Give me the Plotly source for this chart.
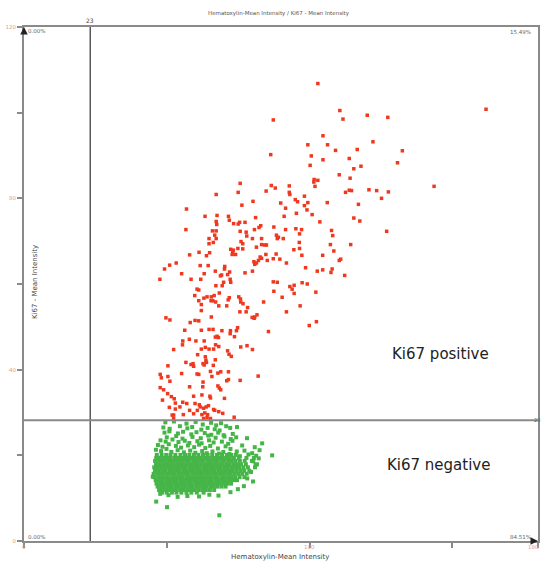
import plotly.graph_objects as go

# ---------------- data ----------------
pos_x = [102.9,110.6,111.7,87.3,104.7,99.4,106.3,109.1,86.4,100.6,104.7,113.9,100.2,110.4,114.2,101.6,102.9,101.5,101.9,75.7,
         86.6,88.0,92.9,84.8,75.0,92.9,93.1,113.9,112.6,67.3,98.2,95.0,95.8,99.4,80.2,89.9,76.3,98.2,91.6,99.1,
         106.2,56.9,95.4,100.9,63.4,67.6,71.6,71.9,81.1,91.1,67.3,67.5,73.4,75.0,75.5,77.4,103.6,56.7,66.0,67.3,
         66.8,75.7,77.8,78.0,80.7,82.3,82.9,87.5,91.6,95.2,97.2,96.5,107.7,108.1,88.4,89.1,90.8,88.7,83.2,67.3,
         64.8,
         161.8,120.2,127.4,122.2,116.7,132.5,130.8,115.5,118.0,143.6,114.7,120.8,123.5,127.6,125.2,117.1,115.5,117.6,127.0,
         64.8,66.3,80.0,76.0,84.3,84.9,83.2,96.4,96.5,107.3,114.4,72.4,73.3,73.1,72.9,74.1,74.9,76.6,76.6,81.4,
         94.5,61.3,58.0,63.9,65.0,84.7,82.7,83.2,85.2,87.3,88.3,89.6,80.5,81.4,82.1,80.8,91.9,97.3,104.6,108.5,
         110.9,110.4,49.2,51.0,53.3,47.6,55.2,61.7,64.5,63.1,58.5,61.9,67.0,70.3,70.2,68.8,69.2,71.3,72.0,72.2,
         72.4,69.9,69.4,67.2,77.4,80.0,87.3,88.7,93.1,94.6,93.9,94.6,97.4,99.2,98.6,102.7,104.6,107.9,107.5,112.3,
         102.2,87.5,60.6,61.2,59.8,61.2,63.0,64.1,65.6,66.6,65.5,66.1,67.1,68.4,71.9,71.5,71.0,68.2,62.1,62.1,
         75.2,75.8,76.7,75.9,78.3,77.8,75.6,83.9,79.9,80.8,81.6,80.6,90.4,91.9,96.7,102.4,99.9,85.6,49.7,51.1,
         58.2,59.9,61.2,65.6,56.3,62.1,64.8,66.2,69.3,72.3,72.2,74.8,74.4,67.6,68.1,67.0,73.7,55.6,55.5,57.9,
         60.2,63.1,67.1,68.2,64.8,66.4,62.1,63.5,75.9,78.1,80.0,71.3,71.8,72.6,52.4,60.8,63.5,63.7,63.9,67.0,
         56.7,58.5,59.2,59.4,62.7,63.1,66.3,50.4,47.7,48.1,50.4,51.1,55.2,60.6,61.2,65.3,65.8,67.9,68.9,71.6,
         71.6,71.0,75.7,82.0,62.7,62.6,58.0,67.9,68.4,68.9,47.7,48.9,50.3,51.6,52.6,59.4,62.3,65.1,65.3,70.2,
         48.5,53.0,55.6,57.0,59.9,61.4,61.7,62.9,63.8,64.6,66.4,68.2,69.6,50.9,52.4,53.0,58.0,59.4,60.7,62.3,
         64.3,73.6,55.8,65.3,64.1,62.9,51.9,52.4,66.8,54.6,63.3]
pos_y = [106.8,100.5,98.5,98.3,94.6,92.5,92.5,91.2,90.2,89.9,89.0,89.3,87.7,85.5,84.7,84.4,84.2,83.8,82.8,83.5,
         83.0,82.4,82.9,81.7,81.4,81.4,80.9,81.9,81.4,80.9,80.5,79.7,79.2,79.0,79.3,78.9,78.4,78.3,77.7,77.3,
         79.0,77.5,76.5,76.2,75.8,76.0,75.8,74.9,75.5,75.8,74.6,73.9,74.1,74.0,74.4,74.4,74.5,72.7,72.4,72.4,
         71.4,72.3,72.1,71.2,72.7,73.2,73.6,73.3,72.7,72.9,72.7,71.7,72.5,71.3,71.4,70.9,70.6,70.6,70.6,70.6,
         70.6,
         100.8,99.4,98.9,93.2,91.4,91.1,88.3,86.9,87.5,82.8,81.8,82.0,81.8,81.5,80.0,78.6,75.4,74.7,72.3,
         69.4,69.7,70.6,69.9,69.1,69.1,69.2,69.7,68.3,69.2,69.2,68.1,67.9,67.4,66.9,66.9,68.3,69.4,68.2,68.6,
         68.0,67.4,66.8,66.6,67.3,66.9,66.3,66.0,65.5,65.9,67.0,65.8,65.2,64.9,65.5,64.6,64.9,66.7,66.7,67.7,
         65.8,65.5,63.5,64.4,64.9,61.1,62.4,64.3,64.3,62.4,61.1,61.1,63.0,64.1,63.5,61.9,62.1,62.2,62.8,61.1,
         60.4,60.4,59.6,59.6,62.6,63.0,60.5,60.4,59.4,59.7,58.8,57.8,60.3,60.0,63.8,63.0,63.3,63.5,62.7,62.0,
         58.1,58.3,58.8,58.6,57.3,56.1,56.7,57.0,57.0,57.3,56.1,56.1,55.8,57.9,56.8,56.3,54.9,54.9,55.2,53.8,
         57.0,56.5,55.4,55.8,54.5,53.5,53.5,55.8,52.2,52.3,52.8,52.0,56.9,53.5,54.9,51.2,50.3,48.9,52.1,51.6,
         51.0,51.5,51.4,52.3,49.2,49.2,49.4,49.4,49.1,49.1,48.4,49.8,49.1,47.8,47.5,47.6,47.7,46.7,45.8,47.1,
         46.7,46.7,45.8,45.4,44.8,44.8,44.8,45.2,45.3,45.6,44.7,44.4,43.6,43.1,44.7,43.5,43.0,42.2,41.7,42.3,
         41.7,41.2,41.4,40.8,41.4,41.1,41.0,40.9,38.9,38.1,38.4,37.3,39.1,39.0,38.9,39.6,38.4,39.2,39.5,39.5,
         37.7,37.4,37.5,38.5,37.1,36.0,36.0,36.2,35.7,35.3,35.8,35.3,34.4,33.7,33.2,33.8,34.1,33.8,33.4,33.3,
         32.9,32.2,32.4,32.1,32.1,31.8,31.3,31.0,31.3,31.6,30.7,30.2,29.8,31.2,29.4,30.8,30.5,29.7,30.5,29.5,
         29.5,28.9,29.5,28.6,28.8,28.6,29.4,28.6,30.5,31.3,29.9]

# sparse negative cells (upper fringe, tail and outliers)
neg_sparse_x = [49.5,52.5,56.9,60.1,62.6,65.5,67.3,69.0,70.8,
                48.8,51.0,54.6,57.2,58.9,62.1,64.3,66.8,68.5,72.2,74.6,
                49.2,50.9,53.9,55.7,58.6,60.4,63.3,65.6,68.0,69.9,73.1,
                50.0,53.3,55.5,59.0,61.9,64.5,67.1,70.2,72.4,74.3,78.1,
                47.8,49.6,52.0,54.1,56.3,57.9,60.7,62.2,64.8,66.4,69.3,71.5,73.0,83.4,
                46.9,48.5,50.7,53.2,55.0,57.4,59.6,61.3,63.5,65.2,67.9,70.6,72.3,76.4,80.8,82.5,
                46.2,48.0,49.9,51.6,53.8,56.0,58.2,60.0,62.4,64.0,66.0,68.3,69.8,71.9,74.5,77.2,79.9,81.3,86.9,
                75.6,78.6,80.3,82.2,45.1,46.3,50.1,68.4,81.1,79.5,80.2,78.2,77.0,74.9,72.3,68.1,64.9,61.3,57.2,53.8,50.6,47.7]
neg_sparse_y = [27.7,27.9,27.4,27.8,27.2,27.6,27.0,27.5,26.8,
                26.5,26.2,26.8,26.3,26.6,26.0,26.4,26.1,25.8,26.4,26.6,
                25.3,25.6,25.1,25.5,24.9,25.4,25.2,24.8,25.3,24.7,25.0,
                24.2,24.5,23.9,24.3,24.0,24.6,24.1,24.4,23.8,24.2,24.0,
                23.5,23.2,23.7,23.1,23.4,22.9,23.3,22.8,23.5,23.0,23.2,22.7,23.4,22.8,
                22.4,22.0,22.6,22.2,21.8,22.3,21.9,22.5,21.7,22.2,21.6,22.1,21.5,22.3,21.9,21.2,
                21.3,21.0,21.5,20.8,21.2,20.7,21.1,20.6,21.0,20.5,20.9,20.4,20.8,20.3,20.9,21.1,20.5,19.9,20.0,
                19.8,20.2,18.6,19.3,15.0,9.2,7.9,6.0,17.8,16.1,13.9,14.6,12.8,12.1,11.4,10.6,10.8,10.4,10.5,10.3,10.7,11.0]

# dense negative core, read as rows: (y level, x values along that row)
neg_core_rows = [
    (20.1, [46.5,48.2,49.8,51.3,53.0,54.8,56.4,57.9,59.5,61.1,62.7,64.3,65.9,67.6,69.4,71.1,72.6,74.2]),
    (19.4, [46.3,47.6,48.8,50.1,51.2,52.6,53.7,55.0,56.1,57.4,58.6,59.8,61.0,62.3,63.5,64.6,65.9,67.2,68.3,69.6,70.8,72.1,73.5,75.2,77.9,80.5]),
    (18.7, [45.9,47.1,48.3,49.5,50.8,51.9,53.2,54.4,55.6,56.8,58.0,59.3,60.5,61.7,62.9,64.2,65.4,66.6,67.8,69.1,70.3,71.6,72.8,74.1,75.6,77.3,79.8]),
    (17.9, [46.2,47.4,48.7,49.9,51.1,52.3,53.6,54.8,56.0,57.2,58.5,59.7,60.9,62.1,63.4,64.6,65.8,67.1,68.3,69.5,70.8,72.0,73.3,74.6,76.0,77.7,81.6]),
    (17.2, [45.6,46.8,48.0,49.3,50.5,51.7,52.9,54.2,55.4,56.6,57.9,59.1,60.3,61.5,62.8,64.0,65.2,66.5,67.7,68.9,70.2,71.4,72.7,73.9,75.3,76.8,78.4,80.9]),
    (16.4, [45.9,47.2,48.4,49.6,50.9,52.1,53.3,54.5,55.8,57.0,58.2,59.5,60.7,61.9,63.1,64.4,65.6,66.8,68.1,69.3,70.5,71.8,73.0,74.3,75.7,77.1,78.9]),
    (15.7, [45.4,46.6,47.8,49.0,50.3,51.5,52.7,54.0,55.2,56.4,57.6,58.9,60.1,61.3,62.6,63.8,65.0,66.2,67.5,68.7,70.0,71.2,72.4,73.7,75.0,76.4,78.0]),
    (14.9, [45.7,47.0,48.2,49.4,50.6,51.9,53.1,54.3,55.5,56.8,58.0,59.2,60.5,61.7,62.9,64.1,65.4,66.6,67.8,69.1,70.3,71.5,72.8,74.0,75.5,77.2]),
    (14.2, [46.1,47.3,48.5,49.8,51.0,52.2,53.4,54.7,55.9,57.1,58.4,59.6,60.8,62.0,63.3,64.5,65.7,67.0,68.2,69.4,70.7,71.9,73.2,74.6]),
    (13.4, [46.4,47.7,48.9,50.1,51.4,52.6,53.8,55.0,56.3,57.5,58.7,60.0,61.2,62.4,63.7,64.9,66.1,67.3,68.6,69.8,71.1,72.5]),
    (12.7, [46.8,48.0,49.3,50.5,51.7,53.0,54.2,55.4,56.7,57.9,59.1,60.4,61.6,62.8,64.0,65.3,66.5,67.8,69.2,70.6]),
    (11.9, [47.3,48.6,49.8,51.1,52.3,53.5,54.8,56.0,57.3,58.5,59.8,61.1,62.4,63.7,65.1,66.6]),
    (11.3, [48.4,50.0,51.8,53.4,55.1,56.9,58.6,60.5,62.9]),
]

threshold_x = 23.2
threshold_y = 28.2
x_ticks = [0, 50, 100, 150, 180]
x_label_vals = [0, 100]          # labelled x ticks (drawn as notes just under the axis)
x_label_text = ["0", "100"]
x_max_label = "180"
y_ticks = [0, 20, 40, 60, 80, 100, 120]
y_tick_labels = ["0", "", "40", "", "80", "", "120"]
quadrant_pct = {"tl": "0.00%", "tr": "15.49%", "bl": "0.00%", "br": "84.51%"}

# ---------------- build ----------------
neg_x = list(neg_sparse_x)
neg_y = list(neg_sparse_y)
for yv, xs in neg_core_rows:
    neg_x.extend(xs)
    neg_y.extend([yv] * len(xs))

FONT = "DejaVu Sans"
AX = "#8a8a8a"
TICKC = "#e6a084"

fig = go.Figure()
fig.add_trace(go.Scatter(x=neg_x, y=neg_y, mode="markers",
                         marker=dict(symbol="square", size=4, color="#46b548", line=dict(width=0)),
                         hoverinfo="skip", showlegend=False))
fig.add_trace(go.Scatter(x=pos_x, y=pos_y, mode="markers",
                         marker=dict(symbol="square", size=3.5, color="#f0381f", line=dict(width=0)),
                         hoverinfo="skip", showlegend=False))

# threshold lines
fig.add_shape(type="line", x0=threshold_x, x1=threshold_x, y0=0, y1=120, xref="x", yref="y",
              line=dict(color="#5a5a5a", width=1.5))
fig.add_shape(type="line", x0=0, x1=180, y0=threshold_y, y1=threshold_y, xref="x", yref="y",
              line=dict(color="#8a8a8a", width=2))

def txt(text, x, y, size, color="#555", xanchor="center", yanchor="middle", xref="paper", yref="paper", angle=0):
    fig.add_annotation(text=text, x=x, y=y, xref=xref, yref=yref, showarrow=False,
                       xanchor=xanchor, yanchor=yanchor, textangle=angle,
                       font=dict(family=FONT, size=size, color=color))

txt("Hematoxylin-Mean Intensity / Ki67 - Mean Intensity", 0.496, 1.027, 5.5, "#555")
txt("Hematoxylin-Mean Intensity", 0.498, -0.0305, 7, "#444")
txt("Ki67 - Mean Intensity", 0.0214, 0.504, 7, "#444", angle=-90)
txt(quadrant_pct["tl"], 0.004, 0.992, 5.5, "#666", xanchor="left")
txt(quadrant_pct["tr"], 0.990, 0.991, 5.5, "#666", xanchor="right")
txt(quadrant_pct["bl"], 0.004, 0.008, 5.5, "#666", xanchor="left")
txt(quadrant_pct["br"], 0.990, 0.008, 5.5, "#666", xanchor="right")
txt("23", threshold_x, 1.013, 6, "#444", xref="x")
txt("28", 1.0078, threshold_y, 5, "#666", xanchor="right", yref="y")
for v, t in zip(x_label_vals, x_label_text):
    txt(t, v, -0.0125, 5.5, TICKC, xref="x")
txt(x_max_label, 1.006, -0.0125, 5.5, TICKC, xanchor="right")
txt("Ki67 positive", 128.2, 43.7, 15, "#222", xanchor="left", xref="x", yref="y")
txt("Ki67 negative", 126.4, 17.7, 15, "#222", xanchor="left", xref="x", yref="y")

# arrow heads at the axis ends
fig.add_annotation(x=0, y=120, xref="x", yref="y", ax=0, ay=7, text="", showarrow=True,
                   arrowhead=2, arrowsize=1, arrowwidth=1.5, arrowcolor="#222", standoff=0)
fig.add_annotation(x=180, y=0, xref="x", yref="y", ax=-7, ay=0, text="", showarrow=True,
                   arrowhead=2, arrowsize=1, arrowwidth=1.5, arrowcolor="#222", standoff=0)

axis_common = dict(showgrid=False, zeroline=False, showline=True, linecolor=AX, linewidth=2,
                   mirror=True, ticks="outside", ticklen=5, tickwidth=1.5, tickcolor=AX,
                   automargin=False,
                   tickfont=dict(family=FONT, size=5.5, color=TICKC))
fig.update_layout(
    width=542, height=561,
    margin=dict(l=24, r=4, t=27, b=20),
    paper_bgcolor="white", plot_bgcolor="white",
    xaxis=dict(range=[0, 180], tickvals=x_ticks, ticktext=[""] * len(x_ticks), **axis_common),
    yaxis=dict(range=[0, 120], tickvals=y_ticks, ticktext=y_tick_labels, **axis_common),
    showlegend=False,
)

fig.write_html("out.html", config={"displayModeBar": False},
               post_script="document.body.style.margin='0px';document.body.style.overflow='hidden';")
